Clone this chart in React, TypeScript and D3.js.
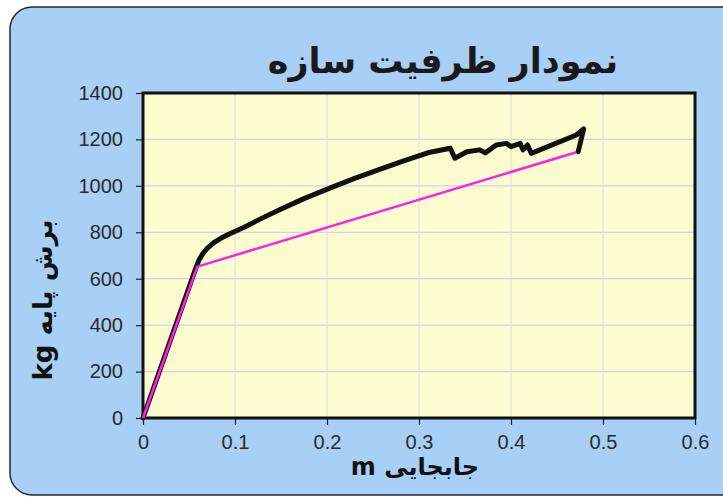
import React, { useEffect, useRef } from "react";
import * as d3 from "d3";

// capacity (pushover) curve, displacement m vs base shear kg
const capacityX = [0, 0.058, 0.061, 0.065, 0.07, 0.077, 0.085, 0.095, 0.11, 0.13, 0.149, 0.175, 0.203, 0.23, 0.258, 0.285, 0.312, 0.334, 0.339, 0.352, 0.366, 0.372, 0.384, 0.395, 0.4, 0.41, 0.413, 0.418, 0.422, 0.471, 0.479, 0.473];
const capacityY = [0, 652, 682, 708, 732, 755, 775, 795, 822, 862, 898, 945, 990, 1032, 1072, 1110, 1145, 1162, 1119, 1147, 1155, 1142, 1176, 1183, 1169, 1183, 1155, 1176, 1140, 1219, 1245, 1147];

// bilinear idealisation
const bilinearX = [0, 0.059, 0.471];
const bilinearY = [0, 652, 1145];

const xTicks = [0, 0.1, 0.2, 0.3, 0.4, 0.5, 0.6];
const yTicks = [0, 200, 400, 600, 800, 1000, 1200, 1400];

const App = () => {
  const svgRef = useRef<SVGSVGElement>(null);

  useEffect(() => {
    const svg = d3.select(svgRef.current);
    svg.selectAll("*").remove();

    const W = 723, H = 497;
    const plot = { left: 143, top: 93, right: 695, bottom: 418 };

    // outer panel
    svg.append("rect")
      .attr("x", 10).attr("y", 7)
      .attr("width", W + 20).attr("height", H - 9)
      .attr("rx", 22)
      .attr("fill", "#a8cff5")
      .attr("stroke", "#2a2a2a")
      .attr("stroke-width", 1.5);

    const x = d3.scaleLinear().domain([0, 0.6]).range([plot.left, plot.right]);
    const y = d3.scaleLinear().domain([0, 1400]).range([plot.bottom, plot.top]);

    svg.append("rect")
      .attr("x", plot.left).attr("y", plot.top)
      .attr("width", plot.right - plot.left).attr("height", plot.bottom - plot.top)
      .attr("fill", "#fdfcce");

    // grid
    svg.append("g")
      .selectAll("line")
      .data(yTicks.slice(1, -1))
      .enter().append("line")
      .attr("x1", plot.left).attr("x2", plot.right)
      .attr("y1", (d) => y(d)).attr("y2", (d) => y(d))
      .attr("stroke", "#d6cdf2").attr("stroke-width", 1.2);
    svg.append("g")
      .selectAll("line")
      .data(xTicks.slice(1, -1))
      .enter().append("line")
      .attr("y1", plot.top).attr("y2", plot.bottom)
      .attr("x1", (d) => x(d)).attr("x2", (d) => x(d))
      .attr("stroke", "#ddd6f2").attr("stroke-width", 1);

    // axes
    const yAxis = svg.append("g")
      .attr("transform", `translate(${plot.left},0)`)
      .call(d3.axisLeft(y).tickValues(yTicks).tickSize(7).tickPadding(13).tickFormat(d3.format("d")));
    yAxis.select(".domain").remove();
    yAxis.selectAll("line").attr("stroke", "#222").attr("stroke-width", 1.2);
    yAxis.selectAll("text")
      .style("font-family", "Liberation Sans, Arial, sans-serif")
      .style("font-size", "20px").attr("fill", "#2a2a2a");

    const xAxis = svg.append("g")
      .attr("transform", `translate(0,${plot.bottom})`)
      .call(d3.axisBottom(x).tickValues(xTicks).tickSize(7).tickPadding(10).tickFormat((d) => String(d)));
    xAxis.select(".domain").remove();
    xAxis.selectAll("line").attr("stroke", "#222").attr("stroke-width", 1.2);
    xAxis.selectAll("text")
      .style("font-family", "Liberation Sans, Arial, sans-serif")
      .style("font-size", "20px").attr("fill", "#2a2a2a");

    // plot frame
    svg.append("rect")
      .attr("x", plot.left).attr("y", plot.top)
      .attr("width", plot.right - plot.left).attr("height", plot.bottom - plot.top)
      .attr("fill", "none").attr("stroke", "#111").attr("stroke-width", 3);

    const line = d3.line<number>().x((d) => x(d));

    svg.append("path")
      .attr("d", line.y((d, i) => y(capacityY[i]))(capacityX))
      .attr("fill", "none").attr("stroke", "#111").attr("stroke-width", 5)
      .attr("stroke-linejoin", "round").attr("stroke-linecap", "round");

    svg.append("path")
      .attr("d", line.y((d, i) => y(bilinearY[i]))(bilinearX))
      .attr("fill", "none").attr("stroke", "#ff1fe6").attr("stroke-width", 2.5);

    // title
    svg.append("text")
      .attr("x", 443).attr("y", 73)
      .attr("text-anchor", "middle")
      .style("font-family", "DejaVu Sans, sans-serif")
      .style("font-weight", "bold").style("font-size", "35px")
      .attr("fill", "#1a1a1a")
      .text("نمودار ظرفیت سازه");

    // axis titles
    svg.append("text")
      .attr("transform", "translate(52,300) rotate(-90)")
      .attr("text-anchor", "middle")
      .attr("direction", "rtl")
      .style("font-family", "DejaVu Sans, sans-serif")
      .style("font-weight", "bold").style("font-size", "26px")
      .attr("fill", "#111")
      .text("برش پایه kg");

    svg.append("text")
      .attr("x", 415).attr("y", 475)
      .attr("text-anchor", "middle")
      .attr("direction", "rtl")
      .style("font-family", "DejaVu Sans, sans-serif")
      .style("font-weight", "bold").style("font-size", "24px")
      .attr("fill", "#111")
      .text("جابجایی m");
  }, []);

  return (
    <div style={{ position: "fixed", left: 0, top: 0 }}>
      <svg ref={svgRef} width={723} height={497} style={{ display: "block", background: "#fff" }}></svg>
    </div>
  );
};

export default App;
